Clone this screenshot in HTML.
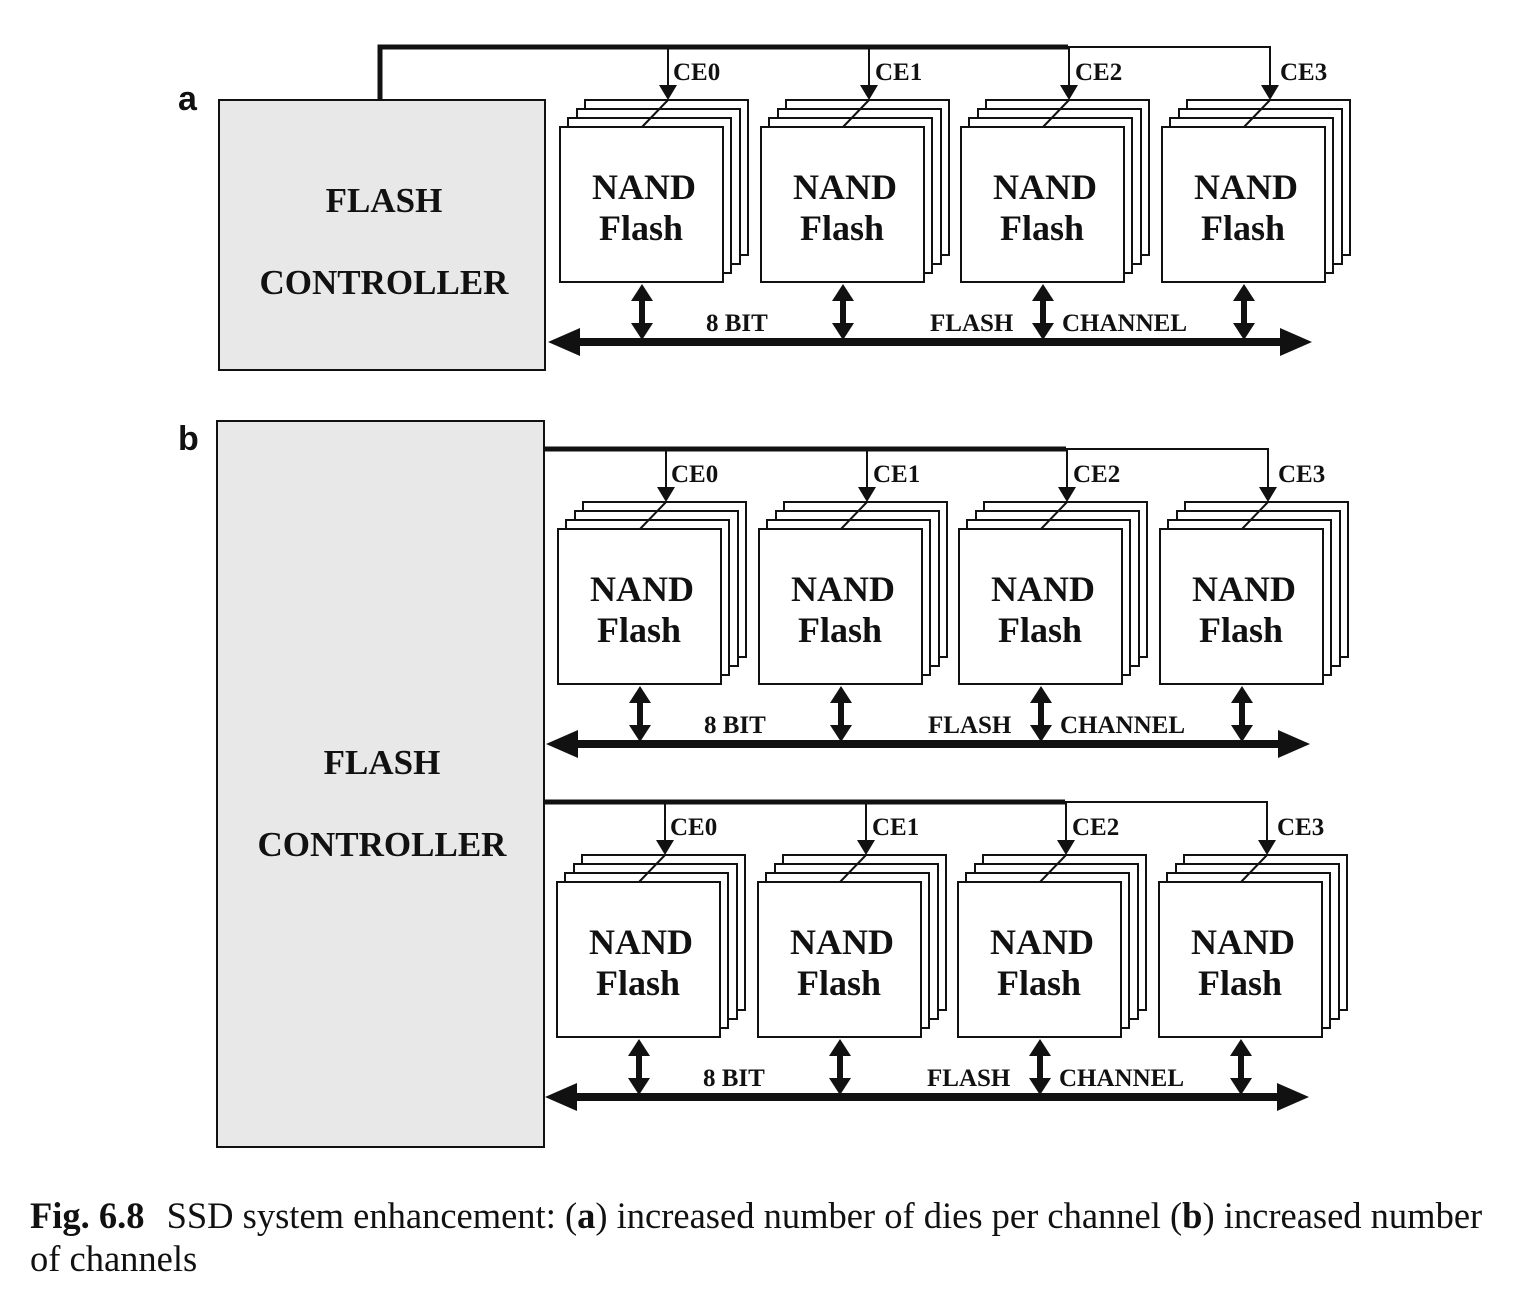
<!DOCTYPE html>
<html><head><meta charset="utf-8"><style>
html,body{margin:0;padding:0;background:#fff;}
svg{display:block;}
.t{font-family:"Liberation Serif",serif;font-weight:bold;fill:#111;}
</style></head><body>
<svg width="1524" height="1302" viewBox="0 0 1524 1302" xmlns="http://www.w3.org/2000/svg">
<defs>
<g id="die" fill="#fff" stroke="#111" stroke-width="2">
  <rect x="25" y="-27" width="163" height="155"/>
  <rect x="17" y="-18" width="163" height="155"/>
  <rect x="8" y="-9" width="163" height="155"/>
  <rect x="0" y="0" width="163" height="155"/>
  <line x1="82" y1="0" x2="108" y2="-27"/>
  <line x1="108" y1="-80" x2="108" y2="-40"/>
  <polygon points="99,-42 117,-42 108,-27" fill="#111" stroke="none"/>
  <line x1="82" y1="168" x2="82" y2="201" stroke-width="6"/>
  <polygon points="71,174 93,174 82,157" fill="#111" stroke="none"/>
  <polygon points="71,196 93,196 82,213" fill="#111" stroke="none"/>
</g>
<g id="row">
  <use href="#die" x="560" y="127"/>
  <use href="#die" x="761" y="127"/>
  <use href="#die" x="961" y="127"/>
  <use href="#die" x="1162" y="127"/>
  <line x1="570" y1="342" x2="1285" y2="342" stroke="#111" stroke-width="8"/>
  <polygon points="548,342 580,328 580,356" fill="#111"/>
  <polygon points="1312,342 1280,328 1280,356" fill="#111"/>
  <line x1="1068" y1="47" x2="1270" y2="47" stroke="#111" stroke-width="2"/>
  <line x1="1270" y1="46" x2="1270" y2="60" stroke="#111" stroke-width="2"/>
</g>
<g id="rowtext">
<g class="t" font-size="36" text-anchor="middle">
<text x="644" y="199">NAND</text><text x="641" y="240">Flash</text>
<text x="845" y="199">NAND</text><text x="842" y="240">Flash</text>
<text x="1045" y="199">NAND</text><text x="1042" y="240">Flash</text>
<text x="1246" y="199">NAND</text><text x="1243" y="240">Flash</text>
</g>
<g class="t" font-size="25">
<text x="673" y="80">CE0</text><text x="875" y="80">CE1</text><text x="1075" y="80">CE2</text><text x="1280" y="80">CE3</text>
<text x="706" y="331">8 BIT</text><text x="930" y="331">FLASH</text><text x="1062" y="331">CHANNEL</text>
</g>
</g>
</defs>

<!-- Panel a -->
<text x="178" y="110" style="font-family:'Liberation Sans',sans-serif;font-weight:bold;font-size:34px;fill:#111">a</text>
<rect x="219" y="100" width="326" height="270" fill="#e8e8e8" stroke="#111" stroke-width="2"/>
<polyline points="380,100 380,47 1068,47" fill="none" stroke="#111" stroke-width="5"/>
<use href="#row"/>
<use href="#rowtext"/>
<g class="t" font-size="35" text-anchor="middle">
<text x="384" y="212">FLASH</text>
<text x="384" y="294">CONTROLLER</text>
</g>

<!-- Panel b -->
<text x="178" y="450" style="font-family:'Liberation Sans',sans-serif;font-weight:bold;font-size:34px;fill:#111">b</text>
<rect x="217" y="421" width="327" height="726" fill="#e8e8e8" stroke="#111" stroke-width="2"/>
<g class="t" font-size="35" text-anchor="middle">
<text x="382" y="774">FLASH</text>
<text x="382" y="856">CONTROLLER</text>
</g>

<g transform="translate(-2,402)">
<line x1="546" y1="47" x2="1068" y2="47" stroke="#111" stroke-width="5"/>
<use href="#row"/>
<use href="#rowtext"/>
</g>

<g transform="translate(-3,755)">
<line x1="547" y1="47" x2="1068" y2="47" stroke="#111" stroke-width="5"/>
<use href="#row"/>
<use href="#rowtext"/>
</g>

<!-- Caption -->
<text x="30" y="1228" style="font-family:'Liberation Serif',serif;font-size:36.5px;fill:#111"><tspan font-weight="bold">Fig. 6.8</tspan><tspan dx="22">SSD system enhancement: (</tspan><tspan font-weight="bold">a</tspan>) increased number of dies per channel (<tspan font-weight="bold">b</tspan>) increased number</text>
<text x="30" y="1271" style="font-family:'Liberation Serif',serif;font-size:36.5px;fill:#111">of channels</text>
</svg>
</body></html>
